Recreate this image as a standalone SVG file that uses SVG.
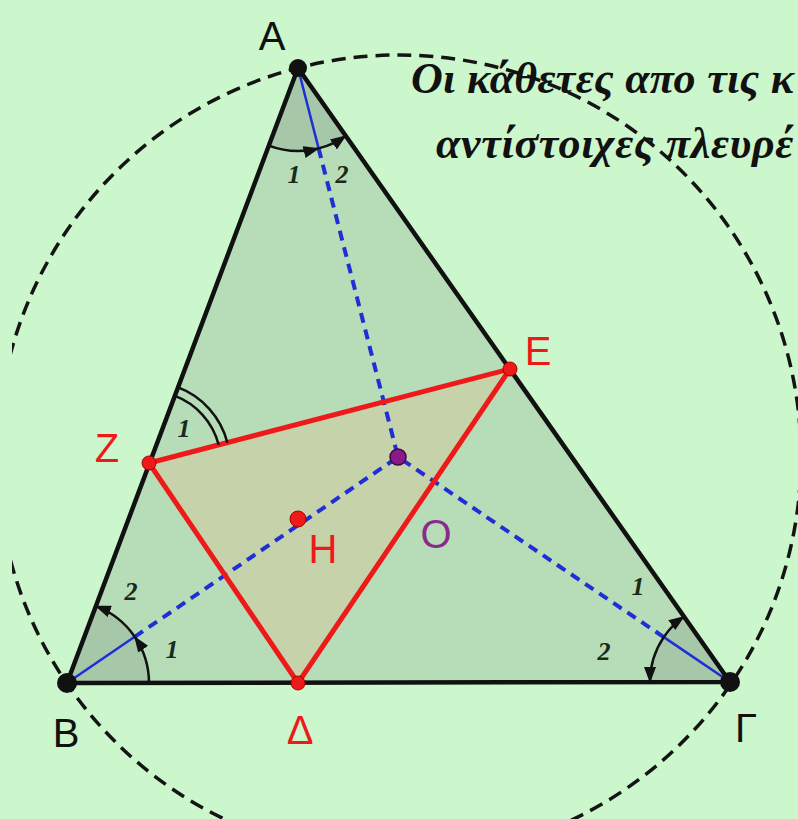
<svg xmlns="http://www.w3.org/2000/svg" width="798" height="819" viewBox="0 0 798 819">
<defs>
<style>
.edge{fill:none;stroke:#111;stroke-width:4.5;stroke-linejoin:round}
.circ{fill:none;stroke:#141414;stroke-width:3.5;stroke-dasharray:14 8}
.bdash{fill:none;stroke:#1e2fd6;stroke-width:4;stroke-dasharray:10 7}
.bsol{fill:none;stroke:#1e2fd6;stroke-width:2.5}
.red{fill:none;stroke:#ee1a1a;stroke-width:5;stroke-linecap:round}
.sector{fill:#a6c8a8}
.arc{fill:none;stroke:#111;stroke-width:2.5}
.arr{fill:none;stroke:#111;stroke-width:2.5;marker-end:url(#ah)}
.lbl{font-family:"Liberation Sans",Arial,sans-serif;font-size:40px;text-anchor:middle}
.num{font-family:"Liberation Serif","Times New Roman",serif;font-size:26px;font-weight:bold;font-style:italic;text-anchor:middle;fill:#1a2a1a}
.title{font-family:"Liberation Serif","Times New Roman",serif;font-size:44px;font-weight:bold;font-style:italic;fill:#111}
</style>
<marker id="ah" markerWidth="16" markerHeight="12" refX="15" refY="6" orient="auto" markerUnits="userSpaceOnUse">
<path d="M0,0 L16,6 L0,12 Z" fill="#111"/>
</marker>
<clipPath id="clipL"><rect x="12" y="0" width="786" height="819"/></clipPath>
</defs>
<rect width="798" height="819" fill="#ccf6cc"/>
<g id="triangle">
<path d="M298,68 L67,683 L730,682 Z" fill="#b6dcb8"/>
<path class="sector" d="M298,68 L268.8,145.7 A83,83 0 0 0 345.7,135.9 Z"/>
<path class="sector" d="M67,683 L149,683 A82,82 0 0 0 95.8,606.2 Z"/>
<path class="sector" d="M730,682 L684,616.6 A80,80 0 0 0 650,682 Z"/>
</g>
<g id="inner-triangle">
<path d="M149,463 L510,369 L298,683 Z" fill="#c6d3aa"/>
</g>
<g id="connectors">
<path class="bsol" d="M298,68 L318.6,148.4"/>
<path class="bdash" d="M318.6,148.4 L398,457"/>
<path class="bsol" d="M67,683 L134.7,636.8"/>
<path class="bdash" d="M134.7,636.8 L398,457"/>
<path class="bsol" d="M730,682 L663.8,637.1"/>
<path class="bdash" d="M663.8,637.1 L398,457"/>
<path class="red" d="M149,463 L510,369 L298,683 Z"/>
<path class="edge" d="M298,68 L67,683 L730,682 Z"/>
<circle class="circ" cx="399" cy="457" r="402" clip-path="url(#clipL)"/>
</g>
<g id="angle-marks">
<path class="arr" d="M268.8,145.7 A83,83 0 0 0 318.6,148.4"/>
<path class="arr" d="M318.6,148.4 A83,83 0 0 0 345.7,135.9"/>
<path class="arr" d="M149,683 A82,82 0 0 0 134.7,636.8"/>
<path class="arr" d="M134.7,636.8 A82,82 0 0 0 95.8,606.2"/>
<path class="arr" d="M663.8,637.1 A80,80 0 0 1 684,616.6"/>
<path class="arr" d="M663.8,637.1 A80,80 0 0 0 650,682"/>
<path class="arc" d="M174.4,395.6 A72,72 0 0 1 218.7,444.8"/>
<path class="arc" d="M177.6,387.2 A81,81 0 0 1 227.4,442.6"/>
<text class="num" x="294" y="183">1</text>
<text class="num" x="342" y="183">2</text>
<text class="num" x="184" y="437" font-size="28">1</text>
<text class="num" x="131" y="600">2</text>
<text class="num" x="172" y="658">1</text>
<text class="num" x="638" y="595">1</text>
<text class="num" x="604" y="660">2</text>
</g>
<g id="node-A">
<circle cx="298" cy="68" r="9" fill="#111"/>
<text class="lbl" x="272" y="50" fill="#111">A</text>
</g>
<g id="node-B">
<circle cx="67" cy="683" r="10" fill="#111"/>
<text class="lbl" x="66" y="747" fill="#111">B</text>
</g>
<g id="node-G">
<circle cx="730" cy="682" r="10" fill="#111"/>
<text class="lbl" x="746" y="742" fill="#111">Γ</text>
</g>
<g id="node-Z">
<circle cx="149" cy="463" r="7" fill="#ee1a1a" stroke="#a00" stroke-width="1"/>
<text class="lbl" x="107" y="462" fill="#ee1a1a">Z</text>
</g>
<g id="node-E">
<circle cx="510" cy="369" r="7" fill="#ee1a1a" stroke="#a00" stroke-width="1"/>
<text class="lbl" x="538" y="365" fill="#ee1a1a">E</text>
</g>
<g id="node-D">
<circle cx="298" cy="683" r="7" fill="#ee1a1a" stroke="#a00" stroke-width="1"/>
<text class="lbl" x="300" y="744" fill="#ee1a1a">Δ</text>
</g>
<g id="node-H">
<circle cx="298" cy="519" r="8" fill="#ee1a1a" stroke="#a00" stroke-width="1"/>
<text class="lbl" x="323" y="563" fill="#ee1a1a">H</text>
</g>
<g id="node-O">
<circle cx="398" cy="457" r="8" fill="#8a1a8a" stroke="#3a0a3a" stroke-width="1.5"/>
<text class="lbl" x="436" y="548" fill="#8a2a8a">O</text>
</g>
<g id="title">
<text class="title" x="411" y="93" letter-spacing="0.3">Οι κάθετες απο τις κ</text>
<text class="title" x="436" y="158" letter-spacing="0.7">αντίστοιχες πλευρέ</text>
</g>
</svg>
